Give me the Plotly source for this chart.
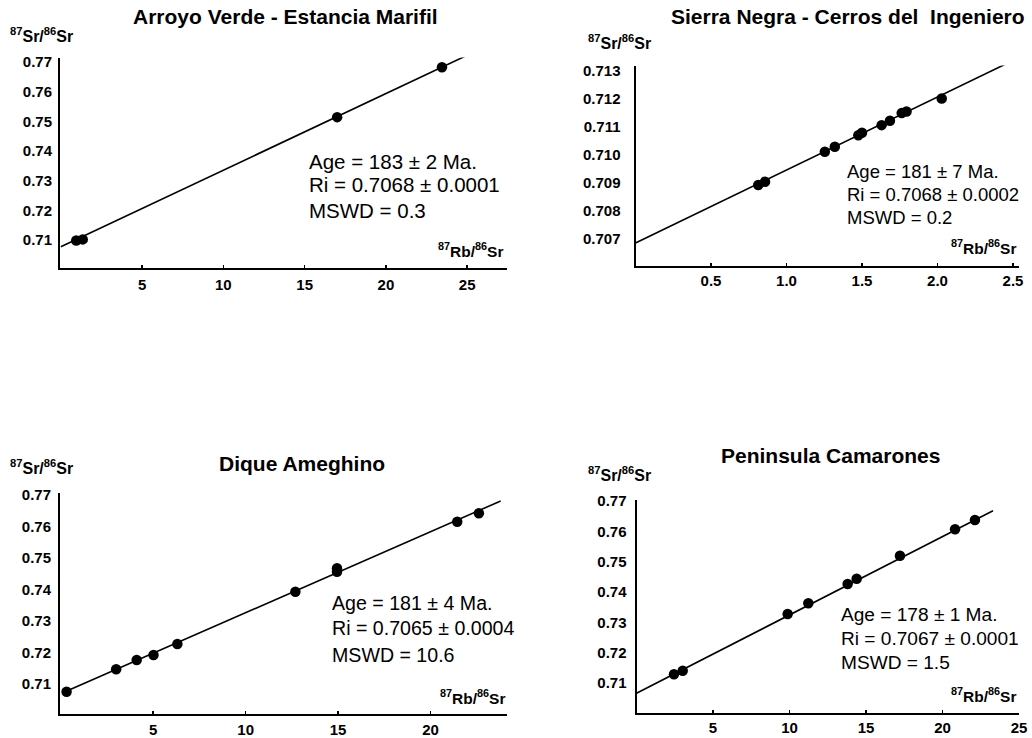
import plotly.graph_objects as go

W, H = 1032, 738

# ---------------- data ----------------
titles = ["Arroyo Verde - Estancia Marifil",
          "Sierra Negra - Cerros del\u00a0 Ingeniero",
          "Dique Ameghino",
          "Peninsula Camarones"]

stats_age = ["Age = 183 ± 2 Ma.", "Age = 181 ± 7 Ma.", "Age = 181 ± 4 Ma.", "Age = 178 ± 1 Ma."]
stats_ri = ["Ri = 0.7068 ± 0.0001", "Ri = 0.7068 ± 0.0002", "Ri = 0.7065 ± 0.0004", "Ri = 0.7067 ± 0.0001"]
stats_mswd = ["MSWD = 0.3", "MSWD = 0.2", "MSWD = 10.6", "MSWD = 1.5"]

# Arroyo Verde - Estancia Marifil
av_rb = [0.95, 1.35, 17.0, 23.45]
av_sr = [0.7098, 0.7102, 0.7514, 0.7682]
av_line_rb = [0.0, 24.9]
av_line_sr = [0.7077, 0.7720]

# Sierra Negra - Cerros del Ingeniero
sn_rb = [0.813, 0.858, 1.254, 1.32, 1.476, 1.50, 1.63, 1.685, 1.763, 1.795, 2.028]
sn_sr = [0.70893, 0.70905, 0.71012, 0.7103, 0.71071, 0.7108, 0.71107, 0.71123, 0.7115, 0.71156, 0.71202]
sn_line_rb = [0.0, 2.47]
sn_line_sr = [0.70686, 0.7133]

# Dique Ameghino
da_rb = [0.32, 3.0, 4.11, 5.02, 6.31, 12.69, 14.94, 14.94, 21.44, 22.61]
da_sr = [0.70756, 0.71467, 0.71762, 0.71921, 0.7227, 0.7393, 0.74673, 0.74565, 0.76152, 0.76419]
da_line_rb = [0.3, 23.79]
da_line_sr = [0.7077, 0.7681]

# Peninsula Camarones
pc_rb = [2.45, 3.02, 9.88, 11.23, 13.80, 14.39, 17.22, 20.82, 22.12]
pc_sr = [0.71287, 0.71406, 0.73275, 0.73628, 0.74264, 0.74439, 0.75197, 0.76068, 0.76374]
pc_line_rb = [0.0, 23.3]
pc_line_sr = [0.7066, 0.76681]

# tick values
x_ticks = [[5, 10, 15, 20, 25], [0.5, 1.0, 1.5, 2.0, 2.5], [5, 10, 15, 20], [5, 10, 15, 20, 25]]
y_ticks = [[0.71, 0.72, 0.73, 0.74, 0.75, 0.76, 0.77],
           [0.707, 0.708, 0.709, 0.710, 0.711, 0.712, 0.713],
           [0.71, 0.72, 0.73, 0.74, 0.75, 0.76, 0.77],
           [0.71, 0.72, 0.73, 0.74, 0.75, 0.76, 0.77]]
x_fmt = ["d", ".1f", "d", "d"]
y_fmt = [".2f", ".3f", ".2f", ".2f"]

# ---------------- layout geometry (pixels) ----------------
FONT = "Liberation Sans, Arial, Helvetica, sans-serif"

def fx(p):
    return p / W

def fy(p):
    return 1 - p / H

panels = [
    dict(xr=[-0.05, 27.45], yr=[0.70066, 0.7715], xd=[60, 507], yd=[57.5, 267.7],
         rb=av_rb, sr=av_sr, lrb=av_line_rb, lsr=av_line_sr, xso=2, yso=3, fs=20.5,
         title=(285, 17), ylab=(8, 35), xlab=(505, 250), st=(307, [161, 184, 210])),
    dict(xr=[0.0, 2.54], yr=[0.70604, 0.7132], xd=[635.5, 1019], yd=[65.5, 266],
         rb=sn_rb, sr=sn_sr, lrb=sn_line_rb, lsr=sn_line_sr, xso=0, yso=10, fs=18.5,
         title=(848, 17), ylab=(586, 42), xlab=(1018, 247), st=(845, [172, 194, 217])),
    dict(xr=[-0.036, 24.13], yr=[0.70063, 0.77063], xd=[60, 507], yd=[493, 713.5],
         rb=da_rb, sr=da_sr, lrb=da_line_rb, lsr=da_line_sr, xso=1, yso=4, fs=19.6,
         title=(302, 463), ylab=(8, 467), xlab=(507, 697), st=(330, [603, 628, 655])),
    dict(xr=[0.0, 25.0], yr=[0.70011, 0.7702], xd=[636.5, 1019], yd=[500.4, 713],
         rb=pc_rb, sr=pc_sr, lrb=pc_line_rb, lsr=pc_line_sr, xso=0, yso=5, fs=19.1,
         title=(830, 455), ylab=(586, 474), xlab=(1018, 695), st=(839, [614, 638, 662])),
]

fig = go.Figure()
annotations = []
layout_axes = {}

for i, p in enumerate(panels):
    n = "" if i == 0 else str(i + 1)
    xa, ya = "x" + n, "y" + n
    fig.add_trace(go.Scatter(x=p["lrb"], y=p["lsr"], mode="lines", xaxis=xa, yaxis=ya,
                             line=dict(color="black", width=1.6), showlegend=False,
                             hoverinfo="skip"))
    fig.add_trace(go.Scatter(x=p["rb"], y=p["sr"], mode="markers", xaxis=xa, yaxis=ya,
                             marker=dict(color="black", size=10.5), showlegend=False,
                             cliponaxis=False, hoverinfo="skip"))
    tickfont = dict(family=FONT, size=15, color="black", weight="bold")
    layout_axes["xaxis" + n] = dict(
        domain=[fx(p["xd"][0]), fx(p["xd"][1])], range=p["xr"], anchor=ya,
        showline=True, linecolor="black", linewidth=2, showgrid=False, zeroline=False,
        ticks="inside", ticklen=3, tickcolor="black", tickwidth=1.5,
        tickvals=x_ticks[i], tickformat=x_fmt[i], tickfont=tickfont,
        ticklabelstandoff=p["xso"], fixedrange=True, automargin=False)
    layout_axes["yaxis" + n] = dict(
        domain=[fy(p["yd"][1]), fy(p["yd"][0])], range=p["yr"], anchor=xa,
        showline=True, linecolor="black", linewidth=2, showgrid=False, zeroline=False,
        ticks="", tickvals=y_ticks[i], tickformat=y_fmt[i], tickfont=tickfont,
        ticklabelstandoff=p["yso"], fixedrange=True, automargin=False)

    annotations.append(dict(text="<b>" + titles[i] + "</b>", x=fx(p["title"][0]), y=fy(p["title"][1]),
                            xref="paper", yref="paper", xanchor="center", yanchor="middle",
                            showarrow=False, font=dict(family=FONT, size=21, color="black")))
    annotations.append(dict(text="<b><sup>87</sup>Sr/<sup>86</sup>Sr</b>", x=fx(p["ylab"][0]), y=fy(p["ylab"][1]),
                            xref="paper", yref="paper", xanchor="left", yanchor="middle",
                            showarrow=False, font=dict(family=FONT, size=16, color="black")))
    annotations.append(dict(text="<b><sup>87</sup>Rb/<sup>86</sup>Sr</b>", x=fx(p["xlab"][0]), y=fy(p["xlab"][1]),
                            xref="paper", yref="paper", xanchor="right", yanchor="middle",
                            showarrow=False, font=dict(family=FONT, size=15.5, color="black")))
    for txt, yy in zip([stats_age[i], stats_ri[i], stats_mswd[i]], p["st"][1]):
        annotations.append(dict(text=txt, x=fx(p["st"][0]), y=fy(yy),
                                xref="paper", yref="paper", xanchor="left", yanchor="middle",
                                showarrow=False, font=dict(family=FONT, size=p["fs"], color="black")))

fig.update_layout(
    width=W, height=H,
    margin=dict(l=0, r=0, t=0, b=0, autoexpand=False),
    paper_bgcolor="white", plot_bgcolor="white",
    showlegend=False,
    annotations=annotations,
    **layout_axes,
)

post = (
    "document.documentElement.style.margin='0';"
    "document.body.style.margin='0';document.body.style.padding='0';"
    "document.body.style.overflow='hidden';document.documentElement.style.overflow='hidden';"
    "var gd=document.getElementById('{plot_id}');"
    "gd.style.position='fixed';gd.style.left='0px';gd.style.top='0px';"
)

fig.write_html("out.html", config={"displayModeBar": False, "staticPlot": True}, post_script=post)
